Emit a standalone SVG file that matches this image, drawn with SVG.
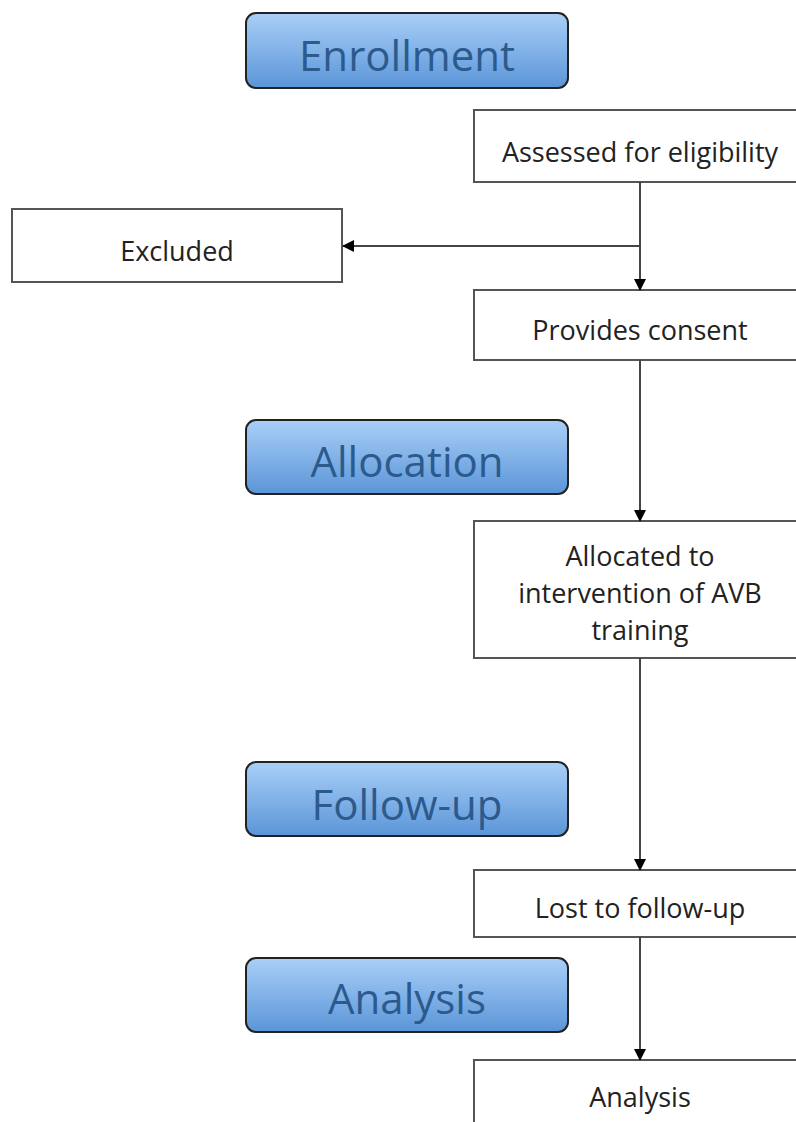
<svg xmlns="http://www.w3.org/2000/svg" width="796" height="1122" viewBox="0 0 796 1122">
<defs>
<linearGradient id="blue" x1="0" y1="0" x2="0" y2="1">
<stop offset="0" stop-color="#a9cff7"/>
<stop offset="1" stop-color="#5b95d8"/>
</linearGradient>
<marker id="arr" markerWidth="12" markerHeight="12" refX="11" refY="6" orient="auto" markerUnits="userSpaceOnUse">
<path d="M0,0 L12,6 L0,12 Z" fill="#000"/>
</marker>
</defs>
<style>
.phase rect{fill:url(#blue);stroke:#222;stroke-width:2}
.phase text{font-family:"Open Sans","Liberation Sans",sans-serif;font-size:42px;fill:#2c5a8c;text-anchor:middle}
.box rect{fill:#fff;stroke:#555;stroke-width:2}
.box text{font-family:"Open Sans","Liberation Sans",sans-serif;font-size:27px;fill:#222;text-anchor:middle}
.conn path{stroke:#444;stroke-width:2;fill:none;marker-end:url(#arr)}
</style>
<rect width="796" height="1122" fill="#fff"/>
<g id="enrollment" class="phase"><rect x="246" y="13" width="322" height="75" rx="10"/><text x="407" y="71">Enrollment</text></g>
<g id="allocation" class="phase"><rect x="246" y="420" width="322" height="74" rx="10"/><text x="407" y="477">Allocation</text></g>
<g id="followup" class="phase"><rect x="246" y="762" width="322" height="74" rx="10"/><text x="407" y="820">Follow-up</text></g>
<g id="analysis-phase" class="phase"><rect x="246" y="958" width="322" height="74" rx="10"/><text x="407" y="1014">Analysis</text></g>
<g id="assessed" class="box"><rect x="474" y="110" width="334" height="72"/><text x="640" y="162">Assessed for eligibility</text></g>
<g id="excluded" class="box"><rect x="12" y="209" width="330" height="73"/><text x="177" y="261">Excluded</text></g>
<g id="consent" class="box"><rect x="474" y="290" width="334" height="70"/><text x="640" y="340">Provides consent</text></g>
<g id="allocated" class="box"><rect x="474" y="521" width="334" height="137"/><text x="640" y="566">Allocated to</text><text x="640" y="603">intervention of AVB</text><text x="640" y="640">training</text></g>
<g id="lost" class="box"><rect x="474" y="870" width="334" height="67"/><text x="640" y="918">Lost to follow-up</text></g>
<g id="analysis" class="box"><rect x="474" y="1060" width="334" height="80"/><text x="640" y="1107">Analysis</text></g>
<g id="connectors" class="conn">
<path d="M640,182 V290"/>
<path d="M640,246 H343"/>
<path d="M640,360 V521"/>
<path d="M640,658 V870"/>
<path d="M640,937 V1060"/>
</g>
</svg>
